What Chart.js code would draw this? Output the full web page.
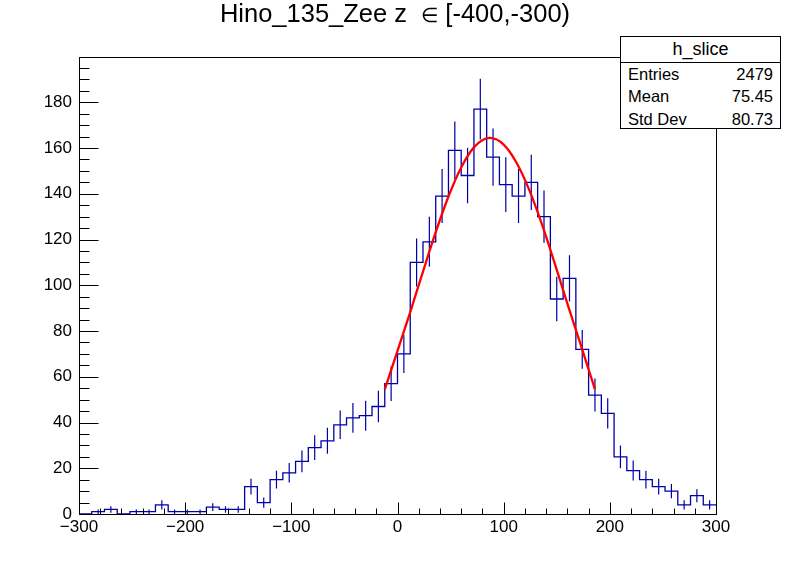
<!DOCTYPE html>
<html>
<head>
<meta charset="utf-8">
<script src="https://cdn.jsdelivr.net/npm/chart.js@4.4.1/dist/chart.umd.min.js"></script>
<style>
  body { margin: 0; background: #fff; }
  #wrap { position: relative; width: 796px; height: 572px; background: #fff; }
  #title { position: absolute; left: 0; top: -1px; width: 790px; text-align: center;
           font: 25.5px "Liberation Sans", Arial, sans-serif; color: #000; white-space: pre; }
  #title .sym { font-size: 0.8em; }
  #stats { position: absolute; left: 620px; top: 36px; width: 161px; height: 93px; box-sizing: border-box;
           border: 1px solid #000; background: #fff; font: 16.5px "Liberation Sans", Arial, sans-serif; color: #000; }
  #stats .hd { height: 25px; line-height: 25px; text-align: center; border-bottom: 1px solid #000; font-size: 18px; }
  #stats .row { height: 22.3px; line-height: 22.3px; display: flex; justify-content: space-between; padding: 0 7px 0 7px; }
</style>
</head>
<body>
<div id="wrap">
  <canvas id="myChart" width="796" height="572"></canvas>
  <div id="title">Hino_135_Zee z  <span class="sym">∈</span> [-400,-300)</div>
  <div id="stats"></div>
</div>
<script>
// histogram bins (low edges + last upper edge) and counts
const binEdges = [-300, -288, -276, -264, -252, -240, -228, -216, -204, -192, -180, -168, -156,
  -144, -132, -120, -108, -96, -84, -72, -60, -48, -36, -24, -12, 0, 12, 24, 36, 48, 60, 72, 84,
  96, 108, 120, 132, 144, 156, 168, 180, 192, 204, 216, 228, 240, 252, 264, 276, 288, 300];
const counts = [0, 1, 2, 0, 1, 1, 4, 1, 1, 1, 3, 2, 2, 12, 5, 15, 18, 23, 29, 32, 39, 42, 43, 47,
  57, 70, 110, 119, 139, 159, 148, 177, 156, 144, 139, 145, 130, 94, 103, 72, 52, 44, 25, 19, 15,
  12, 10, 4, 8, 4];

// fit curve
const fitX = [-12, 0, 12, 24, 36, 48, 60, 72, 87, 100, 112, 124, 136, 148, 160, 172, 186];
const fitY = [54.5, 71.3, 88.3, 106, 123.2, 138.8, 151.5, 160.3, 164.4, 161.5, 153.7, 141.8,
  126.7, 109.7, 92, 74.8, 54.5];

// axes
const xTicks = [-300, -200, -100, 0, 100, 200, 300];
const yTicks = [0, 20, 40, 60, 80, 100, 120, 140, 160, 180];
const yMax = 199.8;

// stats box
const statsName = "h_slice";
const statsRows = [["Entries", "2479"], ["Mean", "75.45"], ["Std Dev", "80.73"]];

function showStats() {
  const box = document.getElementById("stats");
  let html = '<div class="hd">' + statsName + '</div>';
  statsRows.forEach(r => {
    html += '<div class="row"><span>' + r[0] + '</span><span>' + r[1] + '</span></div>';
  });
  box.innerHTML = html;
}

function showChart() {
  // step outline: each point's value runs until the next edge
  const histLine = binEdges.map((x, i) => ({ x, y: counts[Math.min(i, counts.length - 1)] }));

  const errBars = [];
  counts.forEach((n, i) => {
    if (n <= 0) return;
    const c = (binEdges[i] + binEdges[i + 1]) / 2;
    const e = Math.sqrt(n);
    errBars.push({ x: c, y: n - e }, { x: c, y: n + e }, { x: c, y: null });
  });

  const fitLine = fitX.map((x, i) => ({ x, y: fitY[i] }));

  const blue = "#0000a8";

  // ROOT style frame + inward ticks
  const rootFrame = {
    id: "rootFrame",
    afterDatasetsDraw(chart) {
      const { ctx, chartArea: a, scales: { x, y } } = chart;
      ctx.save();
      ctx.strokeStyle = "#000";
      ctx.lineWidth = 1;
      const L = Math.round(a.left) + 0.5, R = Math.round(a.right) + 0.5;
      const T = Math.round(a.top) + 0.5, B = Math.round(a.bottom) + 0.5;
      ctx.strokeRect(L, T, R - L, B - T);
      ctx.beginPath();
      for (let v = -300; v <= 300; v += 20) {
        const px = Math.round(x.getPixelForValue(v)) + 0.5;
        const len = v % 100 === 0 ? 12 : 6;
        ctx.moveTo(px, B);
        ctx.lineTo(px, B - len);
      }
      for (let v = 0; v <= 195; v += 5) {
        const py = Math.round(y.getPixelForValue(v)) + 0.5;
        const len = v % 20 === 0 ? 19 : 10;
        ctx.moveTo(L, py);
        ctx.lineTo(L + len, py);
      }
      ctx.stroke();
      ctx.restore();
    }
  };

  const data = {
    datasets: [
      {
        label: "fit",
        data: fitLine,
        borderColor: "#ff0000",
        borderWidth: 2.3,
        pointRadius: 0,
        showLine: true,
        cubicInterpolationMode: "monotone",
        order: 0,
      },
      {
        label: "errors",
        data: errBars,
        borderColor: blue,
        borderWidth: 1.2,
        pointRadius: 0,
        showLine: true,
        spanGaps: false,
        order: 1,
      },
      {
        label: "h_slice",
        data: histLine,
        borderColor: blue,
        borderWidth: 1.3,
        pointRadius: 0,
        showLine: true,
        stepped: "before",
        order: 2,
      },
    ],
  };

  const config = {
    type: "scatter",
    data,
    options: {
      responsive: false,
      animation: false,
      layout: { padding: { top: 57, right: 80, bottom: 0, left: 0 } },
      plugins: { legend: { display: false }, tooltip: { enabled: false }, title: { display: false } },
      scales: {
        x: {
          type: "linear",
          min: -300,
          max: 300,
          afterBuildTicks: s => { s.ticks = xTicks.map(v => ({ value: v })); },
          afterFit: s => { s.height = 58; },
          grid: { display: false, drawTicks: false },
          border: { display: false },
          ticks: {
            color: "#000",
            font: { size: 17 },
            padding: 3,
            maxRotation: 0,
            autoSkip: false,
            callback: v => String(v).replace("-", "\u2212"),
          },
        },
        y: {
          type: "linear",
          min: 0,
          max: yMax,
          afterBuildTicks: s => { s.ticks = yTicks.map(v => ({ value: v })); },
          afterFit: s => { s.width = 79; },
          grid: { display: false, drawTicks: false },
          border: { display: false },
          ticks: { color: "#000", font: { size: 17 }, padding: 7, autoSkip: false },
        },
      },
    },
    plugins: [rootFrame],
  };

  Chart.defaults.font.family = '"Liberation Sans", Arial, sans-serif';
  new Chart(document.getElementById("myChart"), config);
}

showStats();
showChart();
</script>
</body>
</html>
